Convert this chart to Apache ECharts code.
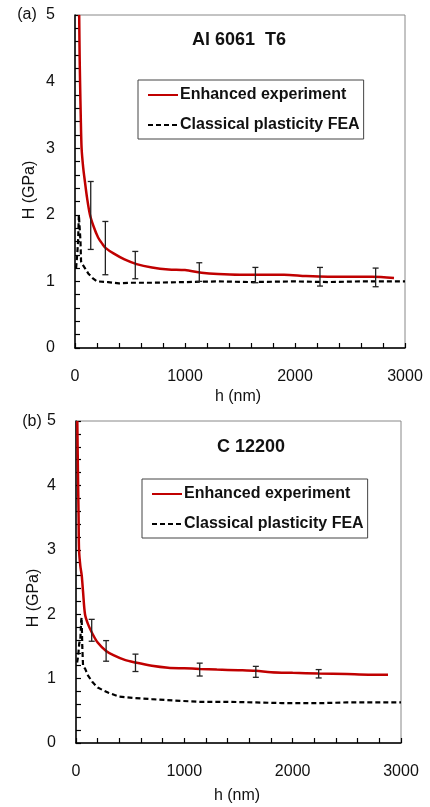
<!DOCTYPE html>
<html>
<head>
<meta charset="utf-8">
<script src="https://cdn.jsdelivr.net/npm/echarts@6/dist/echarts.min.js"></script>
<style>html,body{margin:0;padding:0;background:#fff;}#c{width:430px;height:807px;}</style>
</head>
<body>
<div id="c"></div>
<script>
// ---- Data (h in nm, H in GPa) ----
const legendNames = ['Enhanced experiment', 'Classical plasticity FEA'];
const xTicks = [0, 1000, 2000, 3000];

// (a) Al 6061 T6
const redA_h = [38, 42, 46, 52, 60, 75, 90, 110, 136, 170, 210, 250, 280, 350, 450, 560, 700, 850, 1000, 1150, 1300, 1500, 1700, 1900, 2100, 2300, 2500, 2700, 2900];
const redA_H = [5.0, 4.4, 4.0, 3.5, 3.0, 2.7, 2.5, 2.25, 2.0, 1.82, 1.66, 1.56, 1.5, 1.42, 1.33, 1.26, 1.21, 1.18, 1.17, 1.13, 1.11, 1.1, 1.1, 1.1, 1.08, 1.07, 1.07, 1.07, 1.05];
const blkA_h = [10, 20, 28, 35, 45, 50, 55, 70, 90, 120, 160, 200, 300, 400, 500, 700, 1000, 1300, 1600, 2000, 2300, 2600, 3000];
const blkA_H = [1.2, 1.4, 1.6, 2.0, 2.0, 1.6, 1.3, 1.25, 1.2, 1.12, 1.05, 1.0, 0.99, 0.97, 0.98, 0.98, 0.99, 1.0, 0.99, 1.0, 0.99, 1.0, 1.0];
const errA_h = [143, 276, 548, 1130, 1640, 2227, 2733];
const errA_lo = [1.48, 1.1, 1.04, 1.0, 0.98, 0.93, 0.92];
const errA_hi = [2.5, 1.9, 1.45, 1.28, 1.21, 1.21, 1.2];

// (b) C 12200
const redB_h = [12, 18, 24, 28, 40, 53, 65, 83, 110, 145, 200, 278, 350, 450, 549, 700, 850, 1000, 1142, 1300, 1500, 1660, 1800, 2000, 2240, 2500, 2700, 2880];
const redB_H = [5.0, 4.2, 3.5, 3.0, 2.75, 2.6, 2.35, 2.0, 1.85, 1.72, 1.56, 1.43, 1.36, 1.29, 1.25, 1.2, 1.17, 1.16, 1.15, 1.14, 1.13, 1.12, 1.1, 1.09, 1.08, 1.07, 1.06, 1.06];
const blkB_h = [10, 20, 30, 40, 48, 52, 58, 65, 85, 110, 150, 200, 250, 300, 400, 530, 700, 900, 1140, 1400, 1660, 1900, 2280, 2500, 2700, 3000];
const blkB_H = [1.25, 1.35, 1.55, 1.6, 1.9, 1.95, 1.5, 1.2, 1.15, 1.05, 0.95, 0.86, 0.82, 0.78, 0.72, 0.7, 0.68, 0.66, 0.64, 0.64, 0.63, 0.62, 0.62, 0.63, 0.63, 0.63];
const errB_h = [145, 278, 549, 1142, 1660, 2240];
const errB_lo = [1.58, 1.27, 1.11, 1.04, 1.02, 1.01];
const errB_hi = [1.92, 1.59, 1.38, 1.24, 1.19, 1.14];

const zip = (a, b) => a.map((v, i) => [v, b[i]]);
const zip3 = (a, b, c) => a.map((v, i) => [v, b[i], c[i]]);

const FONT = 'Liberation Sans, Arial, sans-serif';
const RED = '#c00000';

function xAxisFor(idx) {
  return {
    type: 'value', gridIndex: idx, min: 0, max: 3000, interval: 1000,
    axisLine: { show: true, onZero: false, lineStyle: { color: '#000', width: 1.5 } },
    axisTick: { show: true, inside: true, length: 5, lineStyle: { color: '#000', width: 1.2 } },
    minorTick: { show: true, splitNumber: 5, length: 5, lineStyle: { color: '#000', width: 1.2 } },
    splitLine: { show: false },
    axisLabel: { margin: 21, fontSize: 16, color: '#111', fontFamily: FONT,
      showMinLabel: true, showMaxLabel: true, hideOverlap: false,
      formatter: v => xTicks.indexOf(v) >= 0 ? String(v) : '' }
  };
}
function yAxisFor(idx) {
  return {
    type: 'value', gridIndex: idx, min: 0, max: 5, interval: 1,
    axisLine: { show: true, onZero: false, lineStyle: { color: '#000', width: 1.5 } },
    axisTick: { show: true, inside: true, length: 5, lineStyle: { color: '#000', width: 1.2 } },
    minorTick: { show: true, splitNumber: 5, length: 5, lineStyle: { color: '#000', width: 1.2 } },
    splitLine: { show: false },
    axisLabel: { margin: 20, fontSize: 16, color: '#111', fontFamily: FONT,
      showMinLabel: true, showMaxLabel: true, hideOverlap: false }
  };
}

function errSeries(idx, data) {
  return {
    type: 'custom', name: 'err' + idx, xAxisIndex: idx, yAxisIndex: idx, z: 5,
    data: data, silent: true,
    renderItem: function (params, api) {
      const x = api.value(0);
      const lo = api.coord([x, api.value(1)]);
      const hi = api.coord([x, api.value(2)]);
      const cw = 3;
      const st = { stroke: '#222', lineWidth: 1.3 };
      return { type: 'group', children: [
        { type: 'line', shape: { x1: lo[0], y1: lo[1], x2: hi[0], y2: hi[1] }, style: st },
        { type: 'line', shape: { x1: lo[0] - cw, y1: lo[1], x2: lo[0] + cw, y2: lo[1] }, style: st },
        { type: 'line', shape: { x1: hi[0] - cw, y1: hi[1], x2: hi[0] + cw, y2: hi[1] }, style: st }
      ]};
    }
  };
}
function redSeries(idx, data) {
  return { type: 'line', name: legendNames[0], xAxisIndex: idx, yAxisIndex: idx, data: data,
    symbol: 'none', smooth: 0.3, z: 4, lineStyle: { color: RED, width: 2.5 }, itemStyle: { color: RED } };
}
function blkSeries(idx, data) {
  return { type: 'line', name: legendNames[1], xAxisIndex: idx, yAxisIndex: idx, data: data,
    symbol: 'none', z: 3, lineStyle: { color: '#000', width: 2.2, type: [5, 3] }, itemStyle: { color: '#000' } };
}
function legendFor(left, top) {
  return {
    data: legendNames, orient: 'vertical', left: left, top: top,
    itemWidth: 30, itemHeight: 16, itemGap: 14,
    padding: [7, 4, 6, 9],
    borderColor: '#444', borderWidth: 1,
    itemStyle: { opacity: 0, borderWidth: 0 },
    textStyle: { fontSize: 16, fontWeight: 'bold', color: '#111', fontFamily: FONT, padding: [0, 0, 0, -3] },
    selectedMode: false
  };
}
function txt(text, x, y, opts) {
  return Object.assign({ type: 'text', x: x, y: y, style: Object.assign({
    text: text, fill: '#111', font: '16px ' + FONT, textAlign: 'center', textVerticalAlign: 'middle'
  }, opts || {}) });
}

const chart = echarts.init(document.getElementById('c'), null, { renderer: 'canvas' });
chart.setOption({
  backgroundColor: '#fff',
  animation: false,
  grid: [
    { left: 75, top: 15, width: 330, height: 333, show: true, borderColor: '#888', borderWidth: 1, backgroundColor: 'transparent', containLabel: false, outerBoundsMode: 'none' },
    { left: 76, top: 421, width: 325, height: 322, show: true, borderColor: '#888', borderWidth: 1, backgroundColor: 'transparent', containLabel: false, outerBoundsMode: 'none' }
  ],
  xAxis: [xAxisFor(0), xAxisFor(1)],
  yAxis: [yAxisFor(0), yAxisFor(1)],
  legend: [legendFor(138, 80), legendFor(142, 479)],
  series: [
    redSeries(0, zip(redA_h, redA_H)),
    blkSeries(0, zip(blkA_h, blkA_H)),
    errSeries(0, zip3(errA_h, errA_lo, errA_hi)),
    redSeries(1, zip(redB_h, redB_H)),
    blkSeries(1, zip(blkB_h, blkB_H)),
    errSeries(1, zip3(errB_h, errB_lo, errB_hi))
  ],
  graphic: [
    txt('(a)', 27, 15),
    txt('(b)', 32, 422),
    txt('Al 6061  T6', 239, 40, { font: 'bold 18px ' + FONT }),
    txt('C 12200', 251, 447, { font: 'bold 18px ' + FONT }),
    txt('h (nm)', 238, 397),
    txt('h (nm)', 237, 796),
    Object.assign(txt('H (GPa)', 30, 190), { rotation: Math.PI / 2 }),
    Object.assign(txt('H (GPa)', 34, 598), { rotation: Math.PI / 2 })
  ]
});
</script>
</body>
</html>
